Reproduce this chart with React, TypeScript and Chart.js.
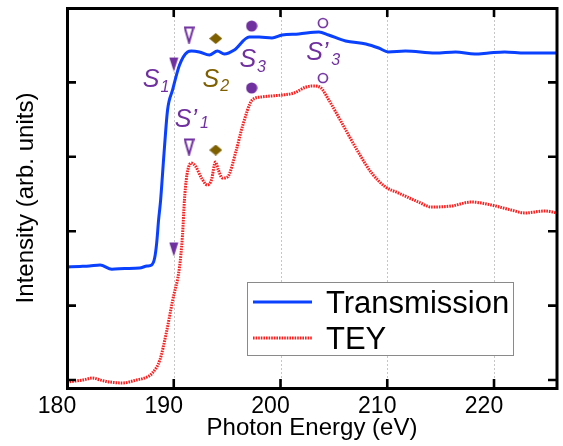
import React, { useEffect, useRef } from "react";
import { Chart, registerables } from "chart.js";
Chart.register(...registerables);

const xTickValues = [180, 190, 200, 210, 220];
const yTickValues = [0, 1, 2, 3, 4, 5];

const transEnergy = [180.0, 181.2, 182.1, 183.1, 184.2, 185.4, 186.8, 187.5, 187.93, 188.21, 188.4, 188.58, 188.77, 189.09, 189.42, 189.89, 190.54, 191.29, 191.66, 192.4, 193.34, 194.09, 194.74, 195.67, 197.07, 198.0, 199.2, 200.15, 201.7, 203.6, 204.5, 206.1, 208.0, 209.2, 210.1, 211.7, 214.5, 216.4, 218.2, 219.5, 221.0, 222.9, 225.9];
const transIntensity = [1.519, 1.526, 1.532, 1.546, 1.49, 1.498, 1.505, 1.532, 1.546, 1.64, 1.841, 2.151, 2.419, 3.05, 3.629, 3.898, 4.234, 4.409, 4.422, 4.409, 4.368, 4.422, 4.382, 4.435, 4.61, 4.61, 4.597, 4.637, 4.651, 4.677, 4.637, 4.556, 4.516, 4.462, 4.409, 4.422, 4.395, 4.409, 4.382, 4.395, 4.409, 4.395, 4.395];

const teyEnergy = [180.0, 181.5, 182.4, 183.1, 184.0, 185.2, 186.5, 187.5, 188.0, 188.7, 189.3, 189.9, 190.54, 190.82, 191.0, 191.17, 191.32, 191.63, 192.03, 192.6, 193.15, 193.53, 193.9, 194.18, 194.55, 195.02, 195.86, 196.42, 197.35, 198.19, 200.15, 201.27, 202.39, 203.13, 203.79, 204.53, 205.75, 207.33, 208.54, 209.85, 211.06, 212.93, 214.14, 216.01, 217.87, 219.74, 221.6, 222.91, 224.78, 225.9];
const teyIntensity = [-0.027, 0.0, 0.027, 0.0, -0.027, -0.04, 0.0, 0.04, 0.094, 0.269, 0.632, 1.075, 1.519, 1.949, 2.419, 2.688, 2.823, 2.917, 2.876, 2.715, 2.621, 2.688, 2.93, 2.823, 2.715, 2.728, 3.091, 3.401, 3.763, 3.804, 3.831, 3.858, 3.938, 3.952, 3.925, 3.763, 3.454, 3.051, 2.782, 2.594, 2.513, 2.392, 2.325, 2.339, 2.392, 2.352, 2.285, 2.245, 2.272, 2.245];

// feature markers (upper on Transmission, lower on TEY)
const s1Energy = [190.0, 190.0];
const s1Intensity = [4.247, 1.761];
const s1pEnergy = [191.43, 191.43];
const s1pIntensity = [4.637, 3.132];
const s2Energy = [193.93, 193.93];
const s2Intensity = [4.59, 3.091];
const s3Energy = [197.3, 197.3];
const s3Intensity = [4.758, 3.925];
const s3pEnergy = [203.97, 203.97];
const s3pIntensity = [4.798, 4.059];

const PURPLE = "#7030A0";
const BROWN = "#7F6000";
const BLUE = "#0A40FF";
const RED = "#FF1E1E";
const FONT = '"Liberation Sans", Arial, Helvetica, sans-serif';

const featureLabels = [
  { text: "S", prime: false, sub: "1", x: 187.1, y: 3.938, color: PURPLE, subDy: 5 },
  { text: "S", prime: false, sub: "2", x: 192.7, y: 3.938, color: BROWN, subDy: 4 },
  { text: "S", prime: false, sub: "3", x: 196.15, y: 4.207, color: PURPLE, subDy: 5 },
  { text: "S", prime: true, sub: "3", x: 202.4, y: 4.301, color: PURPLE, subDy: 5 },
  { text: "S", prime: true, sub: "1", x: 190.1, y: 3.401, color: PURPLE, subDy: 1 },
];

function makeCanvas(w: number, h: number, draw: (c: CanvasRenderingContext2D) => void) {
  const cv = document.createElement("canvas");
  cv.width = w;
  cv.height = h;
  const c = cv.getContext("2d")!;
  draw(c);
  return cv;
}

function zip(xs: number[], ys: number[]) {
  return xs.map((x, i) => ({ x, y: ys[i] }));
}

export default function App() {
  const ref = useRef<HTMLCanvasElement | null>(null);
  useEffect(() => {
    document.body.style.margin = "0";
    const canvas = ref.current!;

    const filledTri = makeCanvas(10, 15, (c) => {
      c.fillStyle = PURPLE;
      c.beginPath();
      c.moveTo(0.5, 1);
      c.lineTo(9.5, 1);
      c.lineTo(5, 15);
      c.closePath();
      c.fill();
    });
    const openTri = makeCanvas(11, 18, (c) => {
      c.strokeStyle = PURPLE;
      c.lineWidth = 2;
      c.lineJoin = "miter";
      c.beginPath();
      c.moveTo(1.2, 1.5);
      c.lineTo(9.8, 1.5);
      c.lineTo(5.5, 16.5);
      c.closePath();
      c.stroke();
    });
    const diamond = makeCanvas(13, 11, (c) => {
      c.fillStyle = BROWN;
      c.beginPath();
      c.moveTo(6.5, 0);
      c.lineTo(13, 5.5);
      c.lineTo(6.5, 11);
      c.lineTo(0, 5.5);
      c.closePath();
      c.fill();
    });
    const filledCircle = makeCanvas(12, 12, (c) => {
      c.fillStyle = PURPLE;
      c.beginPath();
      c.arc(6, 6, 5.6, 0, Math.PI * 2);
      c.fill();
    });
    const openCircle = makeCanvas(12, 12, (c) => {
      c.strokeStyle = PURPLE;
      c.lineWidth = 1.7;
      c.beginPath();
      c.arc(6, 6, 4.5, 0, Math.PI * 2);
      c.stroke();
    });

    const markerDs = (label: string, xs: number[], ys: number[], style: HTMLCanvasElement) => ({
      label,
      data: zip(xs, ys),
      showLine: false,
      pointStyle: style,
      pointRadius: 5,
      pointHoverRadius: 5,
      borderColor: PURPLE,
      backgroundColor: PURPLE,
      isMarker: true,
    });

    const decorPlugin = {
      id: "decor",
      beforeDatasetsDraw(chart: any) {
        const { ctx, chartArea: a, scales } = chart;
        const xs = scales.x;
        ctx.save();
        ctx.strokeStyle = "#c6c6c6";
        ctx.lineWidth = 1;
        ctx.setLineDash([2, 2]);
        for (const v of xTickValues) {
          if (v === xs.min) continue;
          const px = Math.round(xs.getPixelForValue(v)) + 0.5;
          ctx.beginPath();
          ctx.moveTo(px, a.top);
          ctx.lineTo(px, a.bottom);
          ctx.stroke();
        }
        ctx.restore();
      },
      afterDraw(chart: any) {
        const { ctx, chartArea: a, scales } = chart;
        const xs = scales.x;
        const ys = scales.y;
        ctx.save();
        // frame
        ctx.strokeStyle = "#000";
        ctx.lineWidth = 3;
        ctx.setLineDash([]);
        ctx.strokeRect(a.left + 0.5, a.top + 0.5, a.right - a.left - 0.5, a.bottom - a.top);
        // inward ticks
        ctx.lineWidth = 2.6;
        const tl = 9;
        for (const v of xTickValues) {
          if (v === xs.min) continue;
          const px = xs.getPixelForValue(v);
          ctx.beginPath();
          ctx.moveTo(px, a.bottom);
          ctx.lineTo(px, a.bottom - tl);
          ctx.moveTo(px, a.top);
          ctx.lineTo(px, a.top + tl);
          ctx.stroke();
        }
        for (const v of yTickValues) {
          if (v === ys.max) continue;
          const py = ys.getPixelForValue(v);
          ctx.beginPath();
          ctx.moveTo(a.left, py);
          ctx.lineTo(a.left + tl, py);
          ctx.moveTo(a.right, py);
          ctx.lineTo(a.right - tl, py);
          ctx.stroke();
        }

        // feature labels
        for (const L of featureLabels) {
          const px = xs.getPixelForValue(L.x);
          const py = ys.getPixelForValue(L.y);
          ctx.fillStyle = L.color;
          ctx.textAlign = "left";
          ctx.textBaseline = "alphabetic";
          ctx.font = `italic 25px ${FONT}`;
          const main = L.text + (L.prime ? "\u2019" : "");
          ctx.fillText(main, px, py);
          const w = ctx.measureText(main).width;
          ctx.font = `italic 16px ${FONT}`;
          ctx.fillText(L.sub, px + w + (L.prime ? 3 : 1), py + L.subDy);
        }

        // legend
        const lx = 247.5, ly = 282.5, lw = 266, lh = 73;
        ctx.fillStyle = "#fff";
        ctx.fillRect(lx, ly, lw, lh);
        ctx.strokeStyle = "#8a8a8a";
        ctx.lineWidth = 1;
        ctx.strokeRect(lx, ly, lw, lh);
        const items = chart.data.datasets.filter((d: any) => !d.isMarker);
        items.forEach((d: any, i: number) => {
          const cy = 302 + i * 36;
          ctx.strokeStyle = d.borderColor;
          ctx.lineWidth = d.borderWidth;
          ctx.setLineDash(d.borderDash || []);
          ctx.beginPath();
          ctx.moveTo(253, cy);
          ctx.lineTo(312, cy);
          ctx.stroke();
          ctx.setLineDash([]);
          ctx.fillStyle = "#000";
          ctx.font = `31px ${FONT}`;
          ctx.textAlign = "left";
          ctx.textBaseline = "alphabetic";
          ctx.fillText(d.label, 326, cy + 11);
        });
        ctx.restore();
      },
    };

    const chart = new Chart(canvas, {
      type: "line",
      data: {
        datasets: [
          {
            label: "Transmission",
            data: zip(transEnergy, transIntensity),
            borderColor: BLUE,
            backgroundColor: BLUE,
            borderWidth: 3,
            pointRadius: 0,
            cubicInterpolationMode: "monotone",
            borderDash: [],
          } as any,
          {
            label: "TEY",
            data: zip(teyEnergy, teyIntensity),
            borderColor: RED,
            backgroundColor: RED,
            borderWidth: 3,
            borderDash: [1.6, 1],
            pointRadius: 0,
            cubicInterpolationMode: "monotone",
          } as any,
          markerDs("S1", s1Energy, s1Intensity, filledTri) as any,
          markerDs("S'1", s1pEnergy, s1pIntensity, openTri) as any,
          markerDs("S2", s2Energy, s2Intensity, diamond) as any,
          markerDs("S3", s3Energy, s3Intensity, filledCircle) as any,
          markerDs("S'3", s3pEnergy, s3pIntensity, openCircle) as any,
        ],
      },
      options: {
        animation: false,
        responsive: false,
        devicePixelRatio: 1,
        layout: { padding: { left: 0, right: 4, top: 8, bottom: 0 } },
        plugins: { legend: { display: false }, tooltip: { enabled: false } },
        scales: {
          x: {
            type: "linear",
            min: 180,
            max: 225.9,
            grid: { display: false, drawTicks: false },
            border: { display: false },
            afterBuildTicks: (s: any) => {
              s.ticks = xTickValues.map((v) => ({ value: v }));
            },
            afterFit: (s: any) => {
              s.height = 58;
            },
            ticks: {
              color: "#000",
              font: { family: FONT, size: 23 },
              padding: 5,
              labelOffset: -10,
              maxRotation: 0,
            },
            title: {
              display: true,
              text: "Photon Energy (eV)",
              color: "#000",
              font: { family: FONT, size: 24 },
              padding: { top: 0, bottom: 3 },
            },
          },
          y: {
            type: "linear",
            min: -0.1075,
            max: 5,
            grid: { display: false, drawTicks: false },
            border: { display: false },
            afterBuildTicks: (s: any) => {
              s.ticks = yTickValues.map((v) => ({ value: v }));
            },
            afterFit: (s: any) => {
              s.width = 67;
            },
            ticks: { display: false },
            title: {
              display: true,
              text: "Intensity (arb. units)",
              color: "#000",
              font: { family: FONT, size: 24 },
              padding: { top: 12, bottom: 0 },
            },
          },
        },
      } as any,
      plugins: [decorPlugin],
    });
    return () => chart.destroy();
  }, []);

  return (
    <div style={{ width: 563, height: 446 }}>
      <canvas ref={ref} width={563} height={446} style={{ width: 563, height: 446, display: "block" }} />
    </div>
  );
}
